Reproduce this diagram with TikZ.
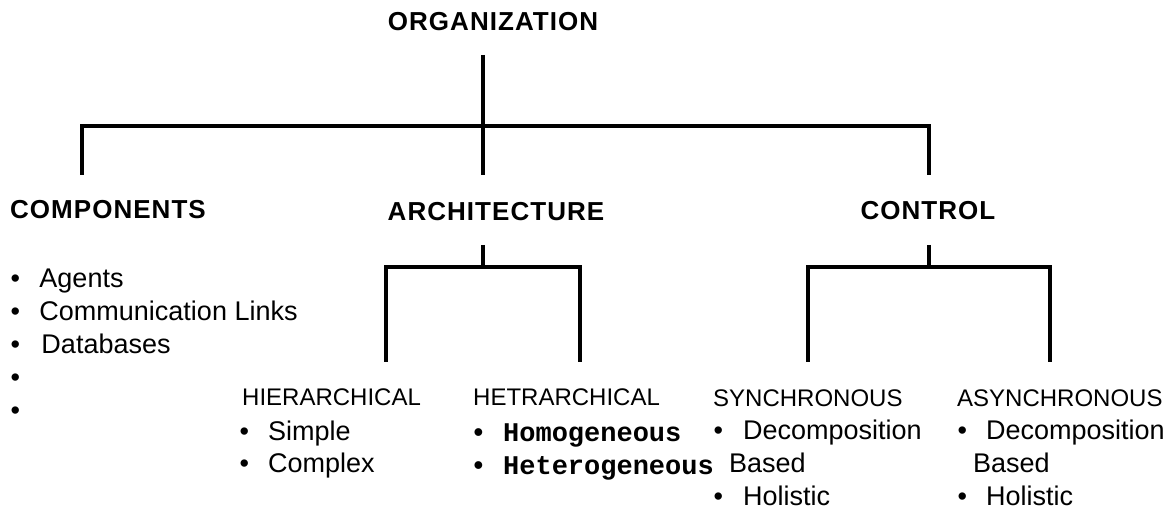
\documentclass[tikz,border=0pt]{standalone}
\usepackage{fontspec}
\setmainfont{Liberation Sans}
\setmonofont{Liberation Mono}
\newfontfamily\headfont[LetterSpace=4]{Liberation Sans}
\usepackage{tikz}
\usetikzlibrary{positioning}
\newcommand{\bul}[1]{\makebox[#1][l]{\textbullet}}

\begin{document}
\begin{tikzpicture}[
    x=1pt, y=-1pt,
    head/.style={font=\headfont\bfseries\fontsize{26}{30}\selectfont, inner sep=0},
    sub/.style={font=\fontsize{24}{28}\selectfont, inner sep=0, anchor=west},
    items/.style={font=\fontsize{27}{33}\selectfont, inner sep=0, anchor=north west, align=left},
    tree/.style={line width=4pt, line join=miter},
    stub/.style={line width=3.5pt}
]
\useasboundingbox (0,0) rectangle (1168,510);

\node[head] (org) at (493,22) {ORGANIZATION};
\node[head] (comp) at (108,210) {COMPONENTS};
\node[head] (arch) at (496,212) {ARCHITECTURE};
\node[head] (ctrl) at (928,211) {CONTROL};

\node[items] (complist) at (10.3,268.7) {\bul{29pt}Agents\\\bul{29pt}Communication Links\\\bul{31pt}Databases\\\bul{29pt}\\\bul{29pt}};

\node[sub] (hier) at (242,397) {HIERARCHICAL};
\node[sub] (hetr) at (473,397) {HETRARCHICAL};
\node[sub] (sync) at (713,398) {SYNCHRONOUS};
\node[sub] (async) at (957,398) {ASYNCHRONOUS};

\node[items, font=\fontsize{27}{32}\selectfont] (hierlist) at (239.3,420.7) {\bul{28.7pt}Simple\\\bul{28.7pt}Complex};
\node[items, font=\ttfamily\bfseries\fontsize{27}{33}\selectfont] (hetrlist) at (470.2,424) {\bul{32.8pt}Homogeneous\\\bul{32.8pt}Heterogeneous};
\node[items, font=\fontsize{27}{33}\selectfont] (synclist) at (713.3,420.2) {\bul{29.7pt}Decomposition\\\hspace*{15.7pt}Based\\\bul{29.7pt}Holistic};
\node[items, font=\fontsize{27}{33}\selectfont] (asynclist) at (957.3,420.2) {\bul{28.7pt}Decomposition\\\hspace*{15.7pt}Based\\\bul{28.7pt}Holistic};

\coordinate (orgtop) at (483,55);
\coordinate (orgfoot) at (483,175);
\coordinate (compup) at (82,126);
\coordinate (ctrlup) at (929,126);
\coordinate (compfoot) at (82,175);
\coordinate (ctrlfoot) at (929,175);
\draw[tree] (orgtop) -- (orgfoot);
\draw[tree] (compfoot) -- (compup) -- (ctrlup) -- (ctrlfoot);

\coordinate (archtop) at (483,245);
\coordinate (archjoin) at (483,267);
\coordinate (hierup) at (386,267);
\coordinate (hetrup) at (580,267);
\coordinate (hierfoot) at (386,362);
\coordinate (hetrfoot) at (580,362);
\draw[stub] (archtop) -- (archjoin);
\draw[tree] (hierfoot) -- (hierup) -- (hetrup) -- (hetrfoot);

\coordinate (ctrltop) at (929,245);
\coordinate (ctrljoin) at (929,267);
\coordinate (syncup) at (808,267);
\coordinate (asyncup) at (1050,267);
\coordinate (syncfoot) at (808,362);
\coordinate (asyncfoot) at (1050,362);
\draw[stub] (ctrltop) -- (ctrljoin);
\draw[tree] (syncfoot) -- (syncup) -- (asyncup) -- (asyncfoot);

\end{tikzpicture}
\end{document}
